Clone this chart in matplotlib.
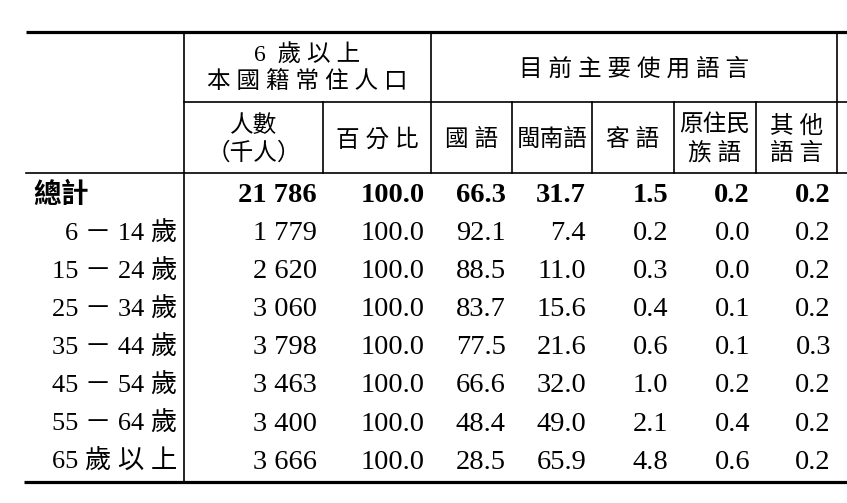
import matplotlib
matplotlib.use("Agg")
import matplotlib.pyplot as plt

FAM = ['Liberation Serif', 'Noto Sans CJK TC', 'DejaVu Sans']

# data
age_groups = ['總計', '6 － 14 歲', '15 － 24 歲', '25 － 34 歲', '35 － 44 歲',
              '45 － 54 歲', '55 － 64 歲', '65 歲 以 上']
population = ['21 786', '1 779', '2 620', '3 060', '3 798', '3 463', '3 400', '3 666']
percent = [100.0, 100.0, 100.0, 100.0, 100.0, 100.0, 100.0, 100.0]
mandarin = [66.3, 92.1, 88.5, 83.7, 77.5, 66.6, 48.4, 28.5]
hokkien = [31.7, 7.4, 11.0, 15.6, 21.6, 32.0, 49.0, 65.9]
hakka = [1.5, 0.2, 0.3, 0.4, 0.6, 1.0, 2.1, 4.8]
indigenous = [0.2, 0.0, 0.0, 0.1, 0.1, 0.2, 0.4, 0.6]
other = [0.2, 0.2, 0.2, 0.2, 0.3, 0.2, 0.2, 0.2]

group_headers = ['6  歲 以 上\n本 國 籍 常 住 人 口', '目 前 主 要 使 用 語 言']
sub_headers = ['人數\n（千人）', '百 分 比', '國 語', '閩南語', '客 語',
               '原住民\n族 語', '其 他\n語 言']

# layout (pixels)
W, H = 847, 503
col_lines = [184, 323, 431, 512, 592, 674, 756, 837]
y_top, y_mid, y_head, y_bot = 32, 102, 173, 482
row_y0, row_dy = 195.5, 38.1

fig = plt.figure(figsize=(W / 100, H / 100), dpi=100)
ax = fig.add_axes([0, 0, 1, 1])
ax.set_xlim(0, W)
ax.set_ylim(H, 0)
ax.axis('off')

# rules
ax.plot([26, W], [y_top, y_top], color='black', lw=2.3, solid_capstyle='butt')
ax.plot([24, W], [y_bot, y_bot], color='black', lw=2.3, solid_capstyle='butt')
ax.plot([26, W], [y_head, y_head], color='black', lw=1.2)
ax.plot([col_lines[0], W], [y_mid, y_mid], color='black', lw=1.2)
ax.plot([col_lines[0]] * 2, [y_top, y_bot], color='black', lw=1.2)
for x in [col_lines[2], col_lines[-1]]:
    ax.plot([x, x], [y_top, y_head], color='black', lw=1.2)
for x in [col_lines[1], 512, 592, 674, 756]:
    ax.plot([x, x], [y_mid, y_head], color='black', lw=1.2)

# group headers
ax.text((col_lines[0] + col_lines[2]) / 2, 68, group_headers[0], family=FAM,
        fontsize=17, ha='center', va='center', linespacing=1.3)
ax.text((col_lines[2] + col_lines[-1]) / 2, 69, group_headers[1], family=FAM,
        fontsize=17, ha='center', va='center')

# sub headers
for i, label in enumerate(sub_headers):
    xc = (col_lines[i] + col_lines[i + 1]) / 2
    ax.text(xc, 140, label, family=FAM, fontsize=17, ha='center', va='center',
            linespacing=1.3)

# body
columns = [population,
           ['%.1f' % v for v in percent],
           ['%.1f' % v for v in mandarin],
           ['%.1f' % v for v in hokkien],
           ['%.1f' % v for v in hakka],
           ['%.1f' % v for v in indigenous],
           ['%.1f' % v for v in other]]

for r, label in enumerate(age_groups):
    y = row_y0 + r * row_dy
    bold = 'bold' if r == 0 else 'normal'
    if r == 0:
        ax.text(33, y, label, family=FAM, fontsize=20, fontweight='bold',
                ha='left', va='center')
    else:
        ax.text(177, y, label, family=FAM, fontsize=19, ha='right', va='center')
    for c, col in enumerate(columns):
        ax.text(col_lines[c + 1] - 6, y, col[r], family=FAM, fontsize=20.5,
                fontweight=bold, ha='right', va='center')

fig.savefig('out.png', dpi=100)
